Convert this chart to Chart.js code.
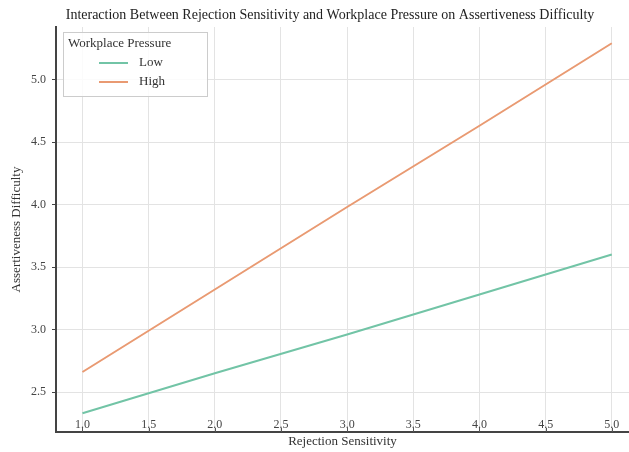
<!DOCTYPE html>
<html>
<head>
<meta charset="utf-8">
<script src="https://cdn.jsdelivr.net/npm/chart.js@4.4.0/dist/chart.umd.min.js"></script>
<style>
  html, body { margin: 0; padding: 0; background: #fff; }
  #wrap { width: 629px; height: 452px; }
</style>
</head>
<body>
<div id="wrap"><canvas id="grafico" width="629" height="452"></canvas></div>
<script>
// dati
const sensibilita = [1.0, 2.0, 3.0, 4.0, 5.0];
const pressioneBassa = [2.33, 2.65, 2.96, 3.28, 3.60];
const pressioneAlta = [2.66, 3.32, 3.98, 4.63, 5.29];
const tickX = [1.0, 1.5, 2.0, 2.5, 3.0, 3.5, 4.0, 4.5, 5.0];
const tickY = [2.5, 3.0, 3.5, 4.0, 4.5, 5.0];
const titolo = 'Interaction Between Rejection Sensitivity and Workplace Pressure on Assertiveness Difficulty';

const serif = "'Liberation Serif', 'DejaVu Serif', serif";
const coloreBasso = '#72c4a6';
const coloreAlto = '#e99a72';

function punti(valori) {
    return sensibilita.map((x, i) => ({ x: x, y: valori[i] }));
}

// titolo, etichette dell'asse x e legenda disegnati a mano
const decorazioni = {
    id: 'decorazioni',
    afterDraw(chart) {
        const ctx = chart.ctx;
        const sx = chart.scales.x;
        ctx.save();

        // titolo
        ctx.font = '14px ' + serif;
        ctx.fillStyle = '#222';
        ctx.textAlign = 'center';
        ctx.textBaseline = 'middle';
        ctx.fillText(titolo, 330, 15);

        // etichette x dentro l'area, sopra l'asse
        ctx.font = '12px ' + serif;
        ctx.fillStyle = '#444';
        tickX.forEach(v => {
            const px = sx.getPixelForValue(v);
            ctx.fillText(v.toFixed(1), px, chart.chartArea.bottom - 7);
            ctx.strokeStyle = '#555';
            ctx.lineWidth = 1;
            ctx.beginPath();
            ctx.moveTo(Math.round(px) + 0.5, chart.chartArea.bottom - 4);
            ctx.lineTo(Math.round(px) + 0.5, chart.chartArea.bottom);
            ctx.stroke();
        });

        // legenda
        ctx.textAlign = 'left';
        ctx.fillStyle = 'rgba(255,255,255,0.85)';
        ctx.strokeStyle = '#cccccc';
        ctx.lineWidth = 1;
        ctx.fillRect(63.5, 32.5, 144, 64);
        ctx.strokeRect(63.5, 32.5, 144, 64);
        ctx.font = '13px ' + serif;
        ctx.fillStyle = '#333';
        ctx.fillText('Workplace Pressure', 68, 44);
        const voci = [['Low', coloreBasso, 63], ['High', coloreAlto, 82]];
        voci.forEach(v => {
            ctx.strokeStyle = v[1];
            ctx.lineWidth = 2;
            ctx.beginPath();
            ctx.moveTo(99, v[2]);
            ctx.lineTo(128, v[2]);
            ctx.stroke();
            ctx.fillStyle = '#333';
            ctx.fillText(v[0], 139, v[2]);
        });
        ctx.restore();
    }
};

new Chart(document.getElementById('grafico'), {
    type: 'line',
    data: {
        datasets: [{
            label: 'Low',
            data: punti(pressioneBassa),
            borderColor: coloreBasso,
            borderWidth: 2,
            pointRadius: 0,
            fill: false
        }, {
            label: 'High',
            data: punti(pressioneAlta),
            borderColor: coloreAlto,
            borderWidth: 2,
            pointRadius: 0,
            fill: false
        }]
    },
    options: {
        responsive: false,
        animation: false,
        layout: { padding: { left: 0, right: 0, top: 27, bottom: 0 } },
        plugins: {
            legend: { display: false },
            tooltip: { enabled: false },
            title: { display: false }
        },
        scales: {
            x: {
                type: 'linear',
                min: 0.8,
                max: 5.13,
                afterBuildTicks: s => { s.ticks = tickX.map(v => ({ value: v })); },
                afterFit: s => { s.height = 20; },
                ticks: { display: false },
                grid: { color: '#e3e3e3', lineWidth: 1, drawTicks: false },
                border: { color: '#444', width: 2 },
                title: {
                    display: true,
                    text: 'Rejection Sensitivity',
                    color: '#333',
                    font: { family: serif, size: 13 },
                    padding: { top: 0, bottom: 3 }
                }
            },
            y: {
                type: 'linear',
                min: 2.18,
                max: 5.42,
                afterBuildTicks: s => { s.ticks = tickY.map(v => ({ value: v })); },
                afterFit: s => { s.width = 56; },
                ticks: {
                    padding: 6,
                    color: '#444',
                    font: { family: serif, size: 12 },
                    callback: v => v.toFixed(1)
                },
                grid: { color: '#e3e3e3', lineWidth: 1, tickLength: 4, tickColor: '#444' },
                border: { color: '#444', width: 2 },
                title: {
                    display: true,
                    text: 'Assertiveness Difficulty',
                    color: '#333',
                    font: { family: serif, size: 13 },
                    padding: { top: 9, bottom: 0 }
                }
            }
        }
    },
    plugins: [decorazioni]
});
</script>
</body>
</html>
